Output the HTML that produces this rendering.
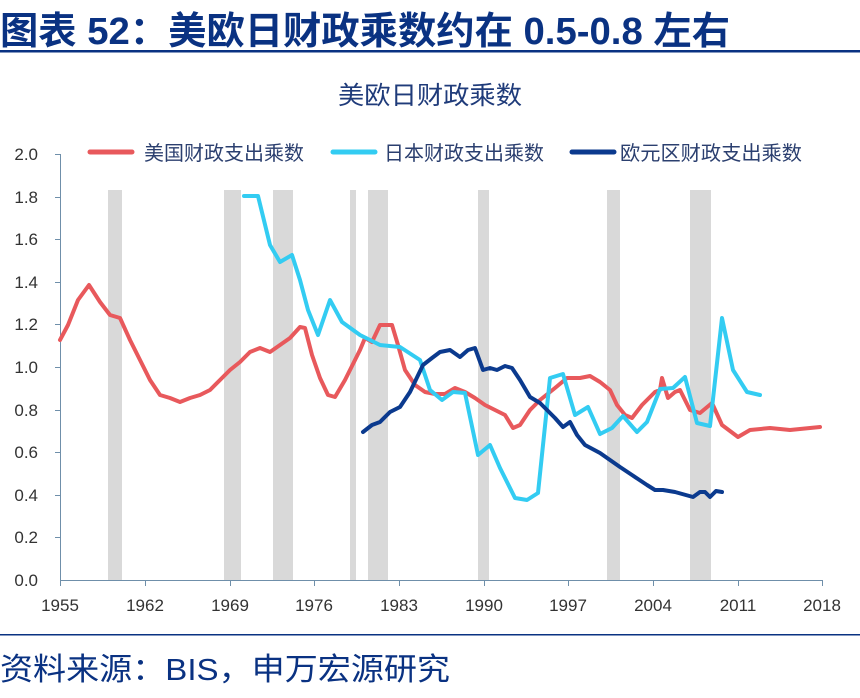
<!DOCTYPE html>
<html><head><meta charset="utf-8"><style>
html,body{margin:0;padding:0;background:#fff;}
body{width:860px;height:698px;position:relative;overflow:hidden;font-family:"Liberation Sans","Noto Sans CJK SC",sans-serif;}
</style></head><body>
<svg width="860" height="698" xmlns="http://www.w3.org/2000/svg" style="position:absolute;left:0;top:0">
<text x="0" y="44" font-size="38" font-weight="bold" fill="#0a3282" textLength="730" lengthAdjust="spacingAndGlyphs" font-family="Liberation Sans,Noto Sans CJK SC,sans-serif">图表 52：美欧日财政乘数约在 0.5-0.8 左右</text>
<rect x="0" y="50" width="860" height="2.5" fill="#0a3282"/>
<text x="430" y="104" font-size="25" fill="#1f3b7a" text-anchor="middle" textLength="184" lengthAdjust="spacingAndGlyphs" font-family="Liberation Sans,Noto Sans CJK SC,sans-serif">美欧日财政乘数</text>
<g fill="#d9d9d9">
<rect x="108" y="190" width="14" height="390"/><rect x="224" y="190" width="17" height="390"/>
<rect x="273" y="190" width="20" height="390"/><rect x="350" y="190" width="6" height="390"/>
<rect x="368" y="190" width="20" height="390"/><rect x="478" y="190" width="11" height="390"/>
<rect x="607" y="190" width="13" height="390"/><rect x="690" y="190" width="21" height="390"/>
</g>
<g stroke="#6f8faa" stroke-width="1">
<line x1="60.5" y1="154" x2="60.5" y2="580"/><line x1="60" y1="580.5" x2="823" y2="580.5"/>
<line x1="55" y1="154.5" x2="60" y2="154.5"/><line x1="55" y1="197.5" x2="60" y2="197.5"/><line x1="55" y1="239.5" x2="60" y2="239.5"/><line x1="55" y1="282.5" x2="60" y2="282.5"/><line x1="55" y1="324.5" x2="60" y2="324.5"/><line x1="55" y1="367.5" x2="60" y2="367.5"/><line x1="55" y1="410.5" x2="60" y2="410.5"/><line x1="55" y1="452.5" x2="60" y2="452.5"/><line x1="55" y1="495.5" x2="60" y2="495.5"/><line x1="55" y1="537.5" x2="60" y2="537.5"/>
<line x1="60.5" y1="580" x2="60.5" y2="586"/><line x1="145.5" y1="580" x2="145.5" y2="586"/><line x1="230.5" y1="580" x2="230.5" y2="586"/><line x1="314.5" y1="580" x2="314.5" y2="586"/><line x1="399.5" y1="580" x2="399.5" y2="586"/><line x1="484.5" y1="580" x2="484.5" y2="586"/><line x1="568.5" y1="580" x2="568.5" y2="586"/><line x1="653.5" y1="580" x2="653.5" y2="586"/><line x1="738.5" y1="580" x2="738.5" y2="586"/><line x1="822.5" y1="580" x2="822.5" y2="586"/>
</g>
<g font-size="17" fill="#333" text-anchor="end" font-family="Liberation Sans,sans-serif">
<text x="38" y="160">2.0</text><text x="38" y="203">1.8</text><text x="38" y="245">1.6</text><text x="38" y="288">1.4</text><text x="38" y="330">1.2</text><text x="38" y="373">1.0</text><text x="38" y="416">0.8</text><text x="38" y="458">0.6</text><text x="38" y="501">0.4</text><text x="38" y="543">0.2</text><text x="38" y="586">0.0</text>
</g>
<g font-size="17" fill="#333" text-anchor="middle" font-family="Liberation Sans,sans-serif">
<text x="60" y="611">1955</text><text x="145" y="611">1962</text><text x="230" y="611">1969</text><text x="314" y="611">1976</text><text x="399" y="611">1983</text><text x="484" y="611">1990</text><text x="568" y="611">1997</text><text x="653" y="611">2004</text><text x="738" y="611">2011</text><text x="822" y="611">2018</text>
</g>
<g fill="none" stroke-width="4" stroke-linejoin="round" stroke-linecap="round">
<polyline stroke="#e8595c" points="60,340 68,325 78,300 89,285 100,302 110,315 120,318 130,340 140,360 150,380 160,395 170,398 180,402 190,398 200,395 210,390 220,380 230,370 240,362 250,352 260,348 270,352 280,345 290,338 300,327 305,328 312,355 320,378 328,395 335,397 345,380 355,360 360,350 365,338 372,342 380,325 392,325 398,345 405,370 415,385 425,392 435,394 445,394 455,388 465,392 475,398 485,405 495,410 505,415 513,428 520,425 530,410 540,400 555,388 567,378 580,378 590,376 600,382 610,390 617,405 625,415 632,418 642,405 655,392 660,390 662,378 668,398 675,392 680,390 690,410 700,413 712,403 722,425 738,437 750,430 770,428 790,430 820,427"/>
<polyline stroke="#33ccf2" points="244,196 258,196 270,245 280,262 292,255 300,280 308,310 318,335 330,300 342,322 360,335 380,345 400,347 420,360 430,390 442,400 453,392 465,393 478,455 490,445 500,468 515,498 527,500 538,493 550,378 563,374 575,415 588,407 600,434 612,428 623,416 637,432 647,422 660,389 673,388 685,377 697,423 710,426 722,318 733,370 747,392 760,395"/>
<polyline stroke="#0b3a8e" points="363,432 372,425 380,422 390,412 400,407 410,392 423,365 432,358 440,352 450,350 460,357 468,350 475,348 483,370 490,368 497,370 505,366 512,368 520,380 530,397 540,403 547,410 555,418 563,427 570,422 577,435 585,445 600,453 610,460 620,467 632,475 647,485 655,490 663,490 675,492 693,497 700,492 705,492 710,497 716,491 722,492"/>
</g>
<g stroke-width="5" stroke-linecap="round">
<line x1="90" y1="152" x2="132" y2="152" stroke="#e8595c"/>
<line x1="333" y1="152" x2="375" y2="152" stroke="#33ccf2"/>
<line x1="572" y1="152" x2="614" y2="152" stroke="#0b3a8e"/>
</g>
<g font-size="20" fill="#2b3f6f" font-family="Liberation Sans,Noto Sans CJK SC,sans-serif">
<text x="144" y="160" textLength="160" lengthAdjust="spacingAndGlyphs">美国财政支出乘数</text>
<text x="384" y="160" textLength="160" lengthAdjust="spacingAndGlyphs">日本财政支出乘数</text>
<text x="620" y="160" textLength="182" lengthAdjust="spacingAndGlyphs">欧元区财政支出乘数</text>
</g>
<rect x="0" y="634" width="860" height="1.5" fill="#0a3282"/>
<text x="0" y="680" font-size="31" fill="#0a3282" textLength="450" lengthAdjust="spacingAndGlyphs" font-family="Liberation Sans,Noto Sans CJK SC,sans-serif">资料来源：BIS，申万宏源研究</text>
</svg>
</body></html>
